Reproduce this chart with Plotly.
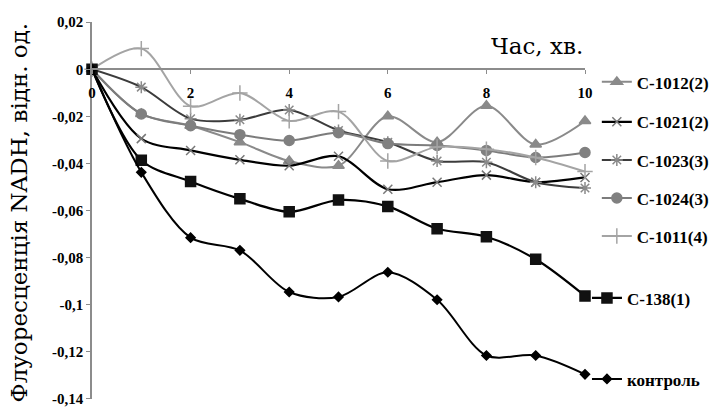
import plotly.graph_objects as go

# Time, minutes
t = [0, 1, 2, 3, 4, 5, 6, 7, 8, 9, 10]

# NADH fluorescence, relative units
c1012 = [0, -0.019, -0.024, -0.031, -0.039, -0.041, -0.020, -0.031, -0.0155, -0.032, -0.022]
c1021 = [0, -0.0295, -0.0345, -0.0385, -0.041, -0.037, -0.051, -0.048, -0.045, -0.048, -0.046]
c1023 = [0, -0.0076, -0.021, -0.0215, -0.0173, -0.026, -0.031, -0.039, -0.0395, -0.048, -0.0505]
c1024 = [0, -0.019, -0.024, -0.0278, -0.0303, -0.027, -0.0316, -0.0324, -0.0345, -0.0375, -0.0354]
c1011 = [0, 0.0088, -0.0157, -0.0101, -0.0219, -0.018, -0.039, -0.033, -0.034, -0.0375, -0.0435]
c138 = [0, -0.0387, -0.0477, -0.0551, -0.0606, -0.0556, -0.0583, -0.0678, -0.0712, -0.0808, -0.0964]
control = [0, -0.0438, -0.0716, -0.077, -0.0947, -0.0968, -0.0863, -0.098, -0.1217, -0.1217, -0.1297]

x_ticks = [0, 2, 4, 6, 8, 10]
y_ticks = [0.02, 0, -0.02, -0.04, -0.06, -0.08, -0.1, -0.12, -0.14]
y_ticktext = ["0,02", "0", "-0,02", "-0,04", "-0,06", "-0,08", "-0,1", "-0,12", "-0,14"]

# a hair of padding so the end ticks are kept
Y_MIN, Y_MAX = -0.1402, 0.0201

series = [
    # name, values, line colour, line width, marker symbol, marker size, marker colour, legend id, legend y
    ("C-1012(2)", c1012, "#8a8a8a", 2.0, "triangle-up", 10, "#8a8a8a", "legend", 0.840),
    ("C-1021(2)", c1021, "#000000", 2.2, "x-thin-open", 9, "#777777", "legend2", 0.734),
    ("C-1023(3)", c1023, "#3c3c3c", 2.0, "asterisk-open", 10, "#8a8a8a", "legend3", 0.633),
    ("C-1024(3)", c1024, "#7c7c7c", 2.0, "circle", 10, "#808080", "legend4", 0.532),
    ("C-1011(4)", c1011, "#a4a4a4", 2.0, "cross-thin-open", 11, "#a4a4a4", "legend5", 0.431),
    ("C-138(1)", c138, "#000000", 2.2, "square", 10, "#111111", "legend6", 0.267),
    ("контроль", control, "#000000", 2.0, "diamond", 7, "#000000", "legend7", 0.052),
]

fig = go.Figure()
legend_font = dict(family="Liberation Serif", size=17, color="#000000", weight="bold")
legends = {}
for name, vals, lc, lw, sym, ms, mc, lid, ly in series:
    fig.add_trace(go.Scatter(
        x=t, y=vals, name=name, mode="lines+markers",
        line=dict(color=lc, width=lw, shape="spline", smoothing=0.9),
        marker=dict(symbol=sym, size=ms, color=mc,
                    line=dict(color=mc, width=1.5)),
        cliponaxis=False,
        legend=lid,
    ))
    lx = 1.024 if lid not in ("legend6", "legend7") else 1.004
    legends[lid] = dict(x=lx, y=ly, xanchor="left", yanchor="middle",
                        bgcolor="rgba(0,0,0,0)", borderwidth=0,
                        font=legend_font, itemwidth=30,
                        tracegroupgap=0)

# x axis sits on the zero line of the y range
x_axis_pos = (0 - Y_MIN) / (Y_MAX - Y_MIN)

tick_font = dict(family="Liberation Serif", size=15, color="#000000", weight="bold")

fig.update_layout(
    width=713, height=409,
    margin=dict(l=92, r=128, t=22, b=10, autoexpand=False),
    paper_bgcolor="white", plot_bgcolor="white",
    showlegend=True,
    xaxis=dict(
        range=[0, 10], anchor="free", position=x_axis_pos,
        tickvals=x_ticks, ticktext=[str(v) for v in x_ticks],
        showgrid=False, zeroline=False,
        showline=True, linecolor="#8c8c8c", linewidth=1.5,
        ticks="outside", ticklen=4, tickcolor="#8c8c8c",
        ticklabelstandoff=6,
        tickfont=tick_font,
    ),
    yaxis=dict(
        range=[Y_MIN, Y_MAX], domain=[0, 1],
        tickvals=y_ticks, ticktext=y_ticktext,
        showgrid=False, zeroline=False,
        showline=True, linecolor="#8c8c8c", linewidth=1.5,
        ticks="outside", ticklen=4, tickcolor="#8c8c8c",
        ticklabeloverflow="allow",
        tickfont=tick_font,
    ),
    annotations=[
        dict(text="Час, хв.", xref="paper", yref="paper", x=1.0, y=0.936,
             xanchor="right", yanchor="middle", showarrow=False,
             font=dict(family="DejaVu Serif", size=23, color="#000000")),
        dict(text="Флуоресценція NADH, відн. од.", xref="paper", yref="paper",
             x=-0.148, y=0.495, xanchor="center", yanchor="middle", textangle=-90,
             showarrow=False,
             font=dict(family="DejaVu Serif", size=23, color="#000000")),
    ],
)
fig.update_layout(**legends)

fig.write_html("out.html")
